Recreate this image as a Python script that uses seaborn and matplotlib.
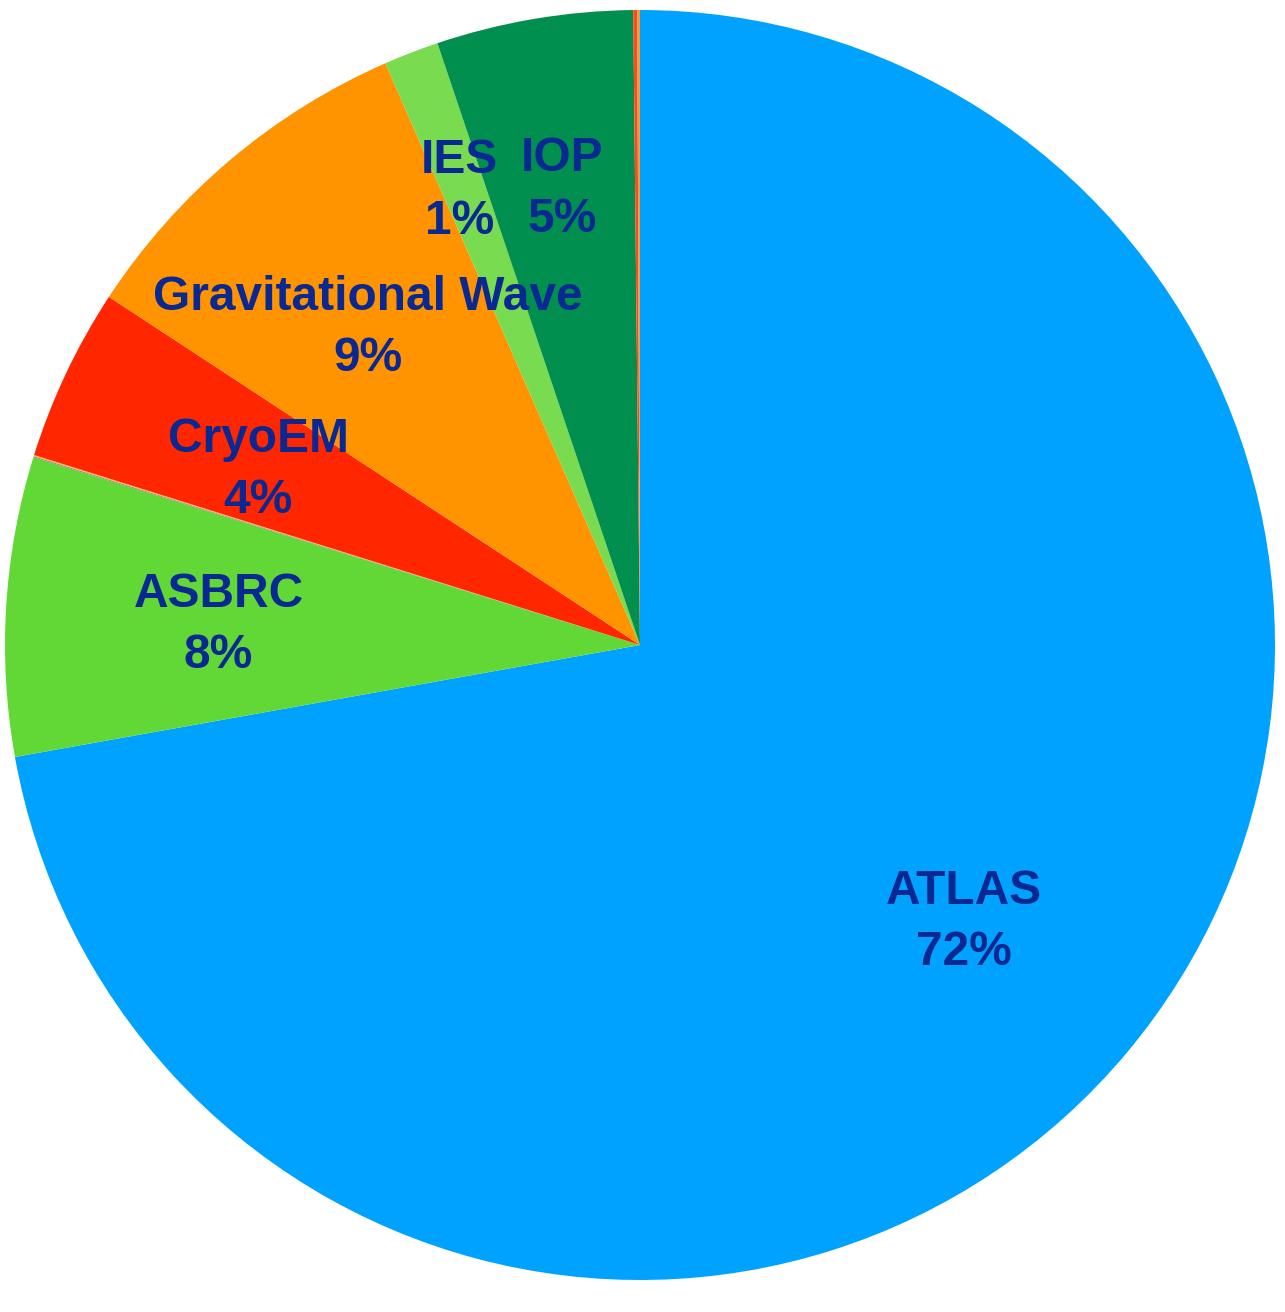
import matplotlib
matplotlib.use("Agg")
import matplotlib.pyplot as plt
import seaborn as sns
import numpy as np

sns.set_theme(style="white")
plt.rcParams['font.family'] = ['Liberation Sans', 'DejaVu Sans']

# Data (clockwise from 12 o'clock)
categories = ["ATLAS", "ASBRC", "tiny_a", "tiny_b", "CryoEM", "Gravitational Wave", "IES", "IOP", "tiny_c", "tiny_d"]
values = [72.2, 7.6, 0.03, 0.03, 4.4, 9.2, 1.4, 5.0, 0.1, 0.07]
shown_labels = ["ATLAS\n72%", "ASBRC\n8%", "", "", "CryoEM\n4%", "Gravitational Wave\n9%", "IES\n1%", "IOP\n5%", "", ""]
colors = ["#00A2FF", "#61D836", "#8E8E8E", "#FFB43C", "#FF2600", "#FF9300", "#78DB50", "#008F4F", "#FF4A1A", "#FF9A2E"]

W, H = 1285, 1312
fig = plt.figure(figsize=(W / 100, H / 100), dpi=100)
ax = fig.add_axes([5 / W, 32 / H, 1270 / W, 1270 / H])

wedges, _ = ax.pie(values, colors=colors, startangle=90, counterclock=False,
                   radius=1, wedgeprops=dict(linewidth=0))
ax.set_xlim(-1, 1)
ax.set_ylim(-1, 1)
ax.axis("off")

label_r = {"IES\n1%": (0.778, 338.6), "IOP\n5%": (0.738, None)}
for w, lab in zip(wedges, shown_labels):
    if not lab:
        continue
    mid = np.deg2rad((w.theta1 + w.theta2) / 2)
    r = 0.665
    if lab in label_r:
        r, ang = label_r[lab]
        if ang is not None:
            mid = np.deg2rad(90 - ang)
    ax.text(r * np.cos(mid), r * np.sin(mid) - 0.009, lab, ha="center", va="center",
            fontsize=34.5, fontweight="bold", color="#0A2892", linespacing=1.45)

fig.savefig("out.png", dpi=100, facecolor="white")
